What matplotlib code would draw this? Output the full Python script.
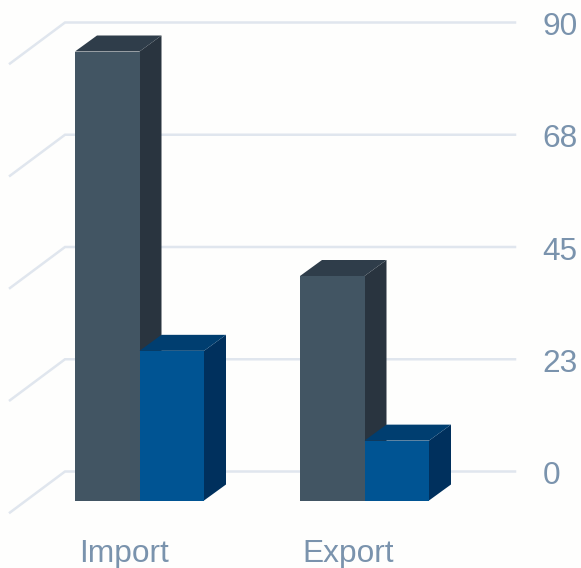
import matplotlib
matplotlib.use('Agg')
import matplotlib.pyplot as plt
from matplotlib.patches import Polygon

categories = ['Import', 'Export']
dark_values = [90, 45]
blue_values = [30, 12]
tick_values = [0, 22.5, 45, 67.5, 90]
tick_labels = ['0', '23', '45', '68', '90']

W, H = 581, 568
px_per_unit = 449 / 90
zero_y = 471.5  # pixel row of value 0 on the back wall

wall_left, wall_right = 65, 515
floor_dx, floor_dy = 55, 41
bar_w = 64.5
depth_x, depth_y = 22, 16
group_x = [75, 300]
label_x = [123.5, 348.5]

grid_col = '#e0e6ee'
text_col = '#7a93ad'
dark_cols = ('#425563', '#29343f', '#2f3d4a')
blue_cols = ('#005493', '#00305d', '#003e70')


def px(n):
    return n / px_per_unit


fig = plt.figure(figsize=(W / 100, H / 100), dpi=100, facecolor='#fefefd')
ax = fig.add_axes([0, 0, 1, 1])
ax.set_xlim(0, W)
ax.set_ylim(-px(H - zero_y), px(zero_y))
ax.axis('off')
plt.rcParams['font.family'] = ['Liberation Sans', 'DejaVu Sans']

for v, lab in zip(tick_values, tick_labels):
    ax.plot([wall_left - floor_dx, wall_left, wall_right], [v - px(floor_dy), v, v],
            color=grid_col, lw=1.8, solid_joinstyle='miter', zorder=1)
    ax.text(542.5, v - px(4.5), lab, color=text_col, fontsize=22.8, va='center', ha='left')


def bar3d(x, value, cols):
    base = -px(29)
    dx, dy = depth_x, px(depth_y)
    front, side, top = cols
    ax.add_patch(Polygon([(x + bar_w, base), (x + bar_w + dx, base + dy),
                          (x + bar_w + dx, value + base + dy), (x + bar_w, value + base)],
                         facecolor=side, edgecolor='none', zorder=2))
    ax.add_patch(Polygon([(x, value + base), (x + dx, value + base + dy),
                          (x + bar_w + dx, value + base + dy), (x + bar_w, value + base)],
                         facecolor=top, edgecolor='none', zorder=2))
    ax.add_patch(Polygon([(x, base), (x + bar_w, base),
                          (x + bar_w, value + base), (x, value + base)],
                         facecolor=front, edgecolor='none', zorder=2))


for i in range(len(categories)):
    bar3d(group_x[i], dark_values[i], dark_cols)
    bar3d(group_x[i] + bar_w, blue_values[i], blue_cols)
    ax.text(label_x[i], -px(82.5), categories[i], color=text_col, fontsize=22.8,
            ha='center', va='center')

fig.savefig('out.png', dpi=100, facecolor=fig.get_facecolor())
